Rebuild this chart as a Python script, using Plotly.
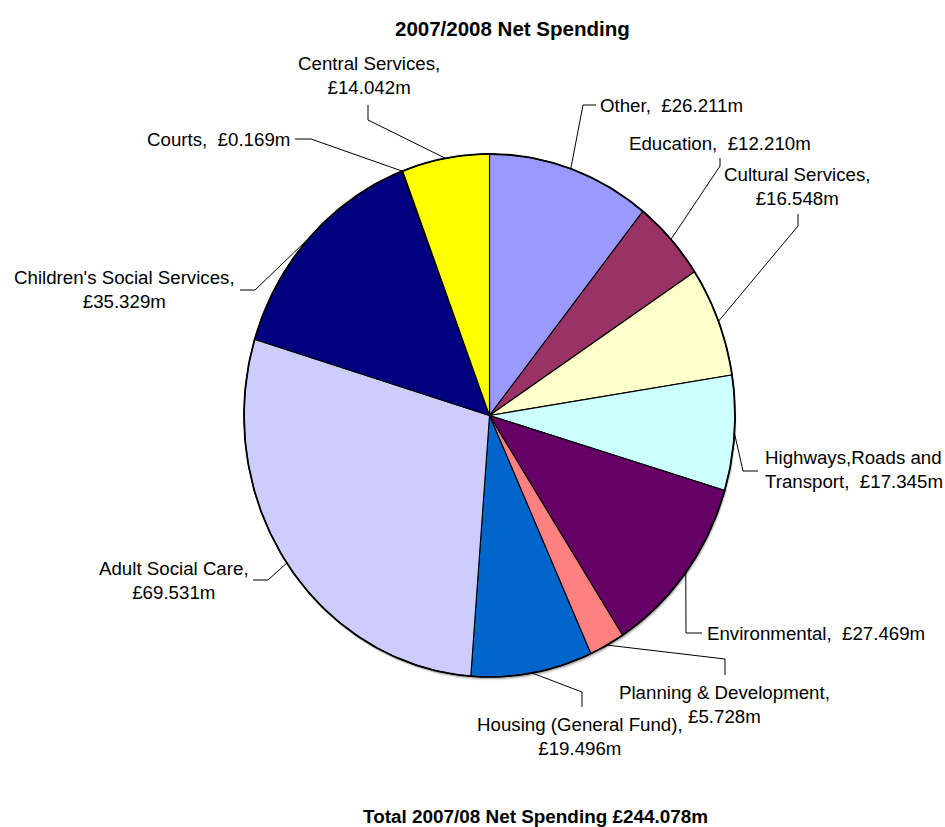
import numpy as np
import plotly.graph_objects as go

# ---------------- data ----------------
categories = ["Other", "Education", "Cultural Services", "Highways,Roads and Transport",
              "Environmental", "Planning & Development", "Housing (General Fund)",
              "Adult Social Care", "Children's Social Services", "Courts", "Central Services"]
values = [26.211, 12.210, 16.548, 17.345, 27.469, 5.728, 19.496, 69.531, 35.329, 0.169, 14.042]
label_names = ["Other", "Education", "Cultural Services", "Highways,Roads and<br>Transport",
               "Environmental", "Planning & Development", "Housing (General Fund)",
               "Adult Social Care", "Children's Social Services", "Courts", "Central Services"]
label_sep = ["  ", "  ", "<br>", "  ", "  ", "<br>", "<br>", "<br>", "<br>", "  ", "<br>"]
title_text = "2007/2008 Net Spending"
footer_text = "Total 2007/08 Net Spending £%.3fm" % sum(values)

# ---------------- style / layout ----------------
colors = ["#9999FF", "#993366", "#FFFFCC", "#CCFFFF", "#660066", "#FF8080", "#0066CC",
          "#CCCCFF", "#000080", "#FF00FF", "#FFFF00"]
W, H = 945, 827
CX, CY, RX, RY = 489.5, 415.5, 245.5, 261.5   # pie ellipse in page pixels
FONT = "Liberation Sans, Arial, sans-serif"

# label placement: (x, y, xanchor, elbow point, line end point)
label_layout = [
    (598, 105, "left",   (583, 105), (596, 105)),
    (720, 143, "center", (720, 166), (720, 158)),
    (797, 186, "center", (798, 226), (798, 214)),
    (763, 469, "left",   (743, 471), (758, 471)),
    (705, 633, "left",   (686, 633), (702, 633)),
    (724, 704, "center", (725, 659), (725, 675)),
    (580, 736, "center", (582, 692), (582, 707)),
    (174, 580, "center", (268, 580), (253, 580)),
    (124, 289, "center", (255, 290), (240, 290)),
    (292, 139, "right",  (311, 139), (295, 139)),
    (369, 75,  "center", (368, 120), (368, 105)),
]

fig = go.Figure()

total = sum(values)
cum = np.concatenate([[0.0], np.cumsum(values)]) / total * 2 * np.pi


def pt(theta):
    return CX + RX * np.sin(theta), CY - RY * np.cos(theta)


# soft shadow below the pie
full = np.linspace(0, 2 * np.pi, 361)
for dx, dy, col in [(1.5, 3.5, "rgba(0,0,0,0.10)"), (1.0, 2.2, "rgba(0,0,0,0.18)")]:
    fig.add_trace(go.Scatter(x=CX + dx + RX * np.sin(full), y=CY + dy - RY * np.cos(full),
                             mode="lines", fill="toself", fillcolor=col,
                             line=dict(width=0), hoverinfo="skip", showlegend=False))

# slices
for i, v in enumerate(values):
    a0, a1 = cum[i], cum[i + 1]
    n = max(3, int(np.ceil((a1 - a0) / (np.pi / 360))))
    th = np.linspace(a0, a1, n)
    xs = [CX] + list(CX + RX * np.sin(th)) + [CX]
    ys = [CY] + list(CY - RY * np.cos(th)) + [CY]
    fig.add_trace(go.Scatter(x=xs, y=ys, mode="lines", fill="toself",
                             fillcolor=colors[i], line=dict(color="black", width=1.1),
                             hoverinfo="text", text=categories[i], showlegend=False))

# outer outline
fig.add_trace(go.Scatter(x=CX + RX * np.sin(full), y=CY - RY * np.cos(full), mode="lines",
                         line=dict(color="black", width=1.8), hoverinfo="skip", showlegend=False))

# leader lines and labels
annotations = []
for i, v in enumerate(values):
    mid = (cum[i] + cum[i + 1]) / 2
    ex, ey = pt(mid)
    lx, ly, xa, elbow, end = label_layout[i]
    fig.add_trace(go.Scatter(x=[ex, elbow[0], end[0]], y=[ey, elbow[1], end[1]],
                             mode="lines", line=dict(color="black", width=1),
                             hoverinfo="skip", showlegend=False))
    txt = "%s,%s£%.3fm" % (label_names[i], label_sep[i], v)
    annotations.append(dict(x=lx, y=ly, xref="x", yref="y", text=txt, showarrow=False,
                            xanchor=xa, yanchor="middle",
                            align="left" if xa == "left" else ("right" if xa == "right" else "center"),
                            font=dict(family=FONT, size=18.7, color="black")))

annotations.append(dict(x=393, y=28, xref="x", yref="y", text="<b>%s</b>" % title_text,
                        showarrow=False, xanchor="left", yanchor="middle",
                        font=dict(family=FONT, size=20.5, color="black")))
annotations.append(dict(x=361, y=816, xref="x", yref="y", text="<b>%s</b>" % footer_text,
                        showarrow=False, xanchor="left", yanchor="middle",
                        font=dict(family=FONT, size=18.9, color="black")))

fig.update_layout(
    width=W, height=H, margin=dict(l=0, r=0, t=0, b=0),
    paper_bgcolor="white", plot_bgcolor="white",
    xaxis=dict(range=[0, W], visible=False, fixedrange=True),
    yaxis=dict(range=[H, 0], visible=False, fixedrange=True),
    annotations=annotations, showlegend=False,
)

fig.write_html("out.html")
